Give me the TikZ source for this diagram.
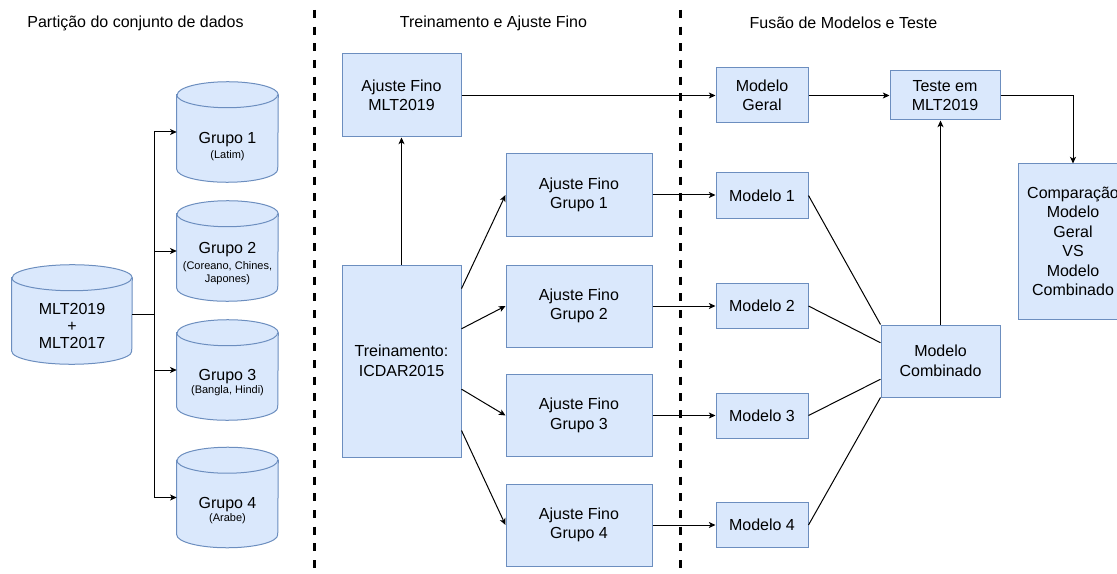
\documentclass[tikz,border=0pt]{standalone}
\usepackage{fontspec}
\setmainfont{Liberation Sans}
\usetikzlibrary{arrows.meta,calc}
\definecolor{bfill}{HTML}{DAE8FC}
\definecolor{bdraw}{HTML}{6C8EBF}
\newdimen\pxu \pxu=0.75pt
\tikzset{
  box/.style={draw=bdraw, fill=bfill, line width=0.75pt, align=center, inner sep=0pt,
    font=\fontsize{12}{14.6}\selectfont},
  cylarea/.style={inner sep=0pt, minimum height=100\pxu},
  cylst/.style={draw=bdraw, fill=bfill, line width=0.75pt},
  bigtxt/.style={inner sep=0pt, anchor=base, font=\fontsize{12}{14.6}\selectfont},
  smalltxt/.style={inner sep=0pt, align=center, font=\fontsize{8.25}{9.4}\selectfont},
  arr/.style={-{Stealth[length=5pt,width=4.5pt,inset=1.3pt]}, line width=0.75pt},
  ln/.style={line width=0.75pt},
  title/.style={inner sep=0pt, font=\fontsize{12}{14.6}\selectfont},
  sep/.style={line width=2.25pt, dash pattern=on 6pt off 6.5pt},
}
\newcommand\drawcyl[3]{%
  \filldraw[cylst] ($(#1.north west)+(0,#3)$) -- ($(#1.south west)+(0,-#3)$)
    arc[start angle=180, end angle=360, x radius=#2\pxu, y radius=#3\pxu]
    -- ($(#1.north east)+(0,#3)$)
    arc[start angle=0, end angle=180, x radius=#2\pxu, y radius=#3\pxu] -- cycle;
  \draw[cylst, fill=none] ($(#1.north west)+(0,#3)$)
    arc[start angle=180, end angle=360, x radius=#2\pxu, y radius=#3\pxu];
}
\begin{document}
\begin{tikzpicture}[x=0.75pt, y=-0.75pt]
\useasboundingbox (0,0) rectangle (1117,574);
\clip (0,0) rectangle (1117,574);

% titles
\node[title] (t1) at (135.5,23) {Partição do conjunto de dados};
\node[title] (t2) at (493.5,23) {Treinamento e Ajuste Fino};
\node[title] (t3) at (843.5,23) {Fusão de Modelos e Teste};

% separators
\coordinate (s1a) at (314,10); \coordinate (s1b) at (314,574);
\coordinate (s2a) at (680,10); \coordinate (s2b) at (680,574);
\draw[sep] (s1a) -- (s1b);
\draw[sep] (s2a) -- (s2b);

% cylinders
\node[cylarea, minimum width=120\pxu, minimum height=99\pxu] (bc) at (72,314.5) {};
\node[cylarea, minimum width=101\pxu] (g1) at (227.5,132) {};
\node[cylarea, minimum width=101\pxu] (g2) at (227.5,251) {};
\node[cylarea, minimum width=101\pxu] (g3) at (227.5,370) {};
\node[cylarea, minimum width=101\pxu] (g4) at (227.5,497.5) {};
\drawcyl{bc}{60}{13}
\drawcyl{g1}{50.5}{13}
\drawcyl{g2}{50.5}{13}
\drawcyl{g3}{50.5}{13}
\drawcyl{g4}{50.5}{13}

\node[inner sep=0pt, align=center, font=\fontsize{12}{12.75}\selectfont] (bct) at (72,326) {MLT2019\\+\\MLT2017};
\node[bigtxt] (g1a) at (227.5,143.5) {Grupo 1};
\node[smalltxt] (g1b) at (227.5,156) {(Latim)};
\node[bigtxt] (g2a) at (227.5,253.5) {Grupo 2};
\node[smalltxt] (g2b) at (227.5,273) {(Coreano, Chines,\\Japones)};
\node[bigtxt] (g3a) at (227.5,380.5) {Grupo 3};
\node[smalltxt] (g3b) at (227.5,391) {(Bangla, Hindi)};
\node[bigtxt] (g4a) at (227.5,508.5) {Grupo 4};
\node[smalltxt] (g4b) at (227.5,519) {(Arabe)};

% boxes column 2
\node[box, minimum width=119\pxu, minimum height=83\pxu] (amlt) at (401.5,95.5) {Ajuste Fino\\MLT2019};
\node[box, minimum width=119\pxu, minimum height=192\pxu] (tr) at (401.5,361) {Treinamento:\\ICDAR2015};
\node[box, minimum width=146\pxu, minimum height=82\pxu] (af1) at (579,195) {Ajuste Fino\\Grupo 1};
\node[box, minimum width=146\pxu, minimum height=82\pxu] (af2) at (579,306) {Ajuste Fino\\Grupo 2};
\node[box, minimum width=146\pxu, minimum height=82\pxu] (af3) at (579,415.5) {Ajuste Fino\\Grupo 3};
\node[box, minimum width=146\pxu, minimum height=82\pxu] (af4) at (579,525) {Ajuste Fino\\Grupo 4};

% boxes column 3
\node[box, minimum width=92\pxu, minimum height=55\pxu] (mg) at (762,95.5) {Modelo\\Geral};
\node[box, minimum width=92\pxu, minimum height=45\pxu] (m1) at (762,195.5) {Modelo 1};
\node[box, minimum width=92\pxu, minimum height=45\pxu] (m2) at (762,306) {Modelo 2};
\node[box, minimum width=92\pxu, minimum height=45\pxu] (m3) at (762,415.5) {Modelo 3};
\node[box, minimum width=92\pxu, minimum height=45\pxu] (m4) at (762,525) {Modelo 4};
\node[box, minimum width=110\pxu, minimum height=49\pxu] (teste) at (945,95.5) {Teste em\\MLT2019};
\node[box, minimum width=119\pxu, minimum height=72\pxu] (mc) at (940.5,361) {Modelo\\Combinado};
\node[box, minimum width=110\pxu, minimum height=155\pxu] (comp) at (1073,241.5) {Comparação\\Modelo\\Geral\\VS\\Modelo\\Combinado};

% connectors column 1
\draw[ln] (bc.east) -- ++(22,0) coordinate (jn);
\draw[arr] (jn) |- (g1.west);
\draw[arr] (jn) |- (g2.west);
\draw[arr] (jn) |- (g3.west);
\draw[arr] (jn) |- (g4.west);

% connectors column 2
\draw[arr] (tr.north) -- (amlt.south);
\draw[arr] ($(tr.north east)!0.125!(tr.south east)$) -- (af1.west);
\draw[arr] ($(tr.north east)!0.333!(tr.south east)$) -- (af2.west);
\draw[arr] ($(tr.north east)!0.646!(tr.south east)$) -- (af3.west);
\draw[arr] ($(tr.north east)!0.86!(tr.south east)$) -- (af4.west);

% connectors to column 3
\draw[arr] (amlt.east) -- (mg.west);
\draw[arr] (af1.east) -- (af1.east -| m1.west);
\draw[arr] (af2.east) -- (af2.east -| m2.west);
\draw[arr] (af3.east) -- (af3.east -| m3.west);
\draw[arr] (af4.east) -- (af4.east -| m4.west);
\draw[arr] (mg.east) -- (teste.west);

\draw[ln] (m1.east) -- (mc.north west);
\draw[ln] (m2.east) -- ($(mc.north west)!0.25!(mc.south west)$);
\draw[ln] (m3.east) -- ($(mc.north west)!0.75!(mc.south west)$);
\draw[ln] (m4.east) -- (mc.south west);

\draw[arr] (mc.north) -- (mc.north |- teste.south);
\draw[arr] (teste.east) -| (comp.north);
\end{tikzpicture}
\end{document}
